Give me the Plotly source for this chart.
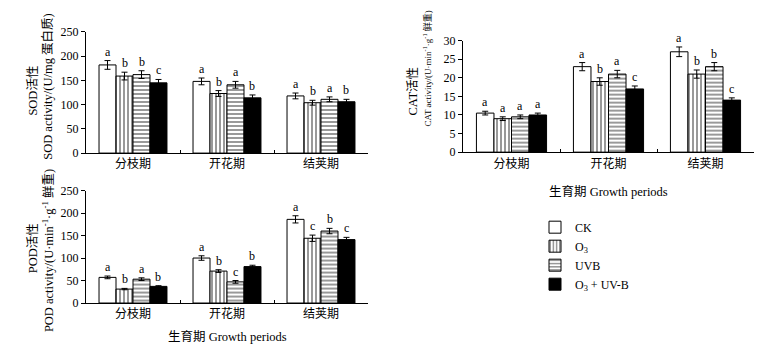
import plotly.graph_objects as go

periods = ["分枝期", "开花期", "结荚期"]
series = ["CK", "O<sub>3</sub>", "UVB", "O<sub>3</sub> + UV-B"]

sod = [[182, 148, 118], [159, 123, 104], [162, 141, 111], [145, 114, 106]]
sod_err = [[9, 7, 6], [8, 6, 5], [8, 7, 5], [7, 6, 5]]
sod_let = [["a", "a", "a"], ["b", "b", "b"], ["b", "a", "a"], ["c", "b", "b"]]

cat = [[10.5, 23, 27], [9, 19, 21], [9.5, 21, 23], [10, 17, 14]]
cat_err = [[0.5, 1.1, 1.3], [0.5, 1.0, 1.1], [0.5, 1.0, 1.1], [0.5, 0.8, 0.6]]
cat_let = [["a", "a", "a"], ["a", "b", "b"], ["a", "a", "b"], ["a", "c", "c"]]

pod = [[57, 100, 186], [31, 71, 144], [53, 47, 160], [37, 81, 141]]
pod_err = [[3, 5, 8], [1.5, 3, 7], [3, 3, 6], [1.5, 3, 5]]
pod_let = [["a", "a", "a"], ["b", "b", "c"], ["a", "c", "b"], ["b", "b", "c"]]

FONT = "Liberation Serif, Times New Roman, Noto Sans CJK SC"
W, H = 767, 360
fills = [
    dict(color="white", pattern=None),
    dict(color="white", pattern=dict(shape="|", fgcolor="black", bgcolor="white", size=4, solidity=0.4)),
    dict(color="white", pattern=dict(shape="-", fgcolor="black", bgcolor="white", size=4, solidity=0.4)),
    dict(color="black", pattern=None),
]

BARGAP = 0.277
bw = (1 - BARGAP) / 4

fig = go.Figure()
panels = [("x", "y", sod, sod_err, sod_let), ("x2", "y2", cat, cat_err, cat_let), ("x3", "y3", pod, pod_err, pod_let)]
annotations = []
for pi, (xa, ya, vals, errs, lets) in enumerate(panels):
    for j in range(4):
        marker = dict(color=fills[j]["color"], line=dict(color="black", width=1))
        if fills[j]["pattern"]:
            marker["pattern"] = fills[j]["pattern"]
        fig.add_trace(go.Bar(
            x=periods, y=vals[j], name=series[j], xaxis=xa, yaxis=ya,
            marker=marker, showlegend=(pi == 0), legendgroup=str(j),
            error_y=dict(type="data", array=errs[j], color="black", thickness=1, width=3),
        ))
        for i in range(3):
            annotations.append(dict(
                x=i + (j - 1.5) * bw, y=vals[j][i] + errs[j][i], xref=xa, yref=ya,
                text="<span style='color:#000000'>" + lets[j][i] + "</span>",
                showarrow=False, yanchor="bottom", yshift=0,
                font=dict(family=FONT, size=12, color="#000000"),
            ))

def dom_x(a, b):
    return [a / W, b / W]

def dom_y(top, bot):
    return [1 - bot / H, 1 - top / H]

axis_common = dict(showline=True, linecolor="black", linewidth=1, showgrid=False, zeroline=False,
                   tickfont=dict(family=FONT, size=12, color="black"))
xcommon = dict(axis_common, ticks="inside", tickson="boundaries", ticklen=3, tickcolor="black")
ycommon = dict(axis_common, ticks="outside", ticklen=4, tickcolor="black")

fig.update_layout(
    width=W, height=H, margin=dict(l=0, r=0, t=0, b=0),
    paper_bgcolor="white", plot_bgcolor="white",
    barmode="group", bargap=BARGAP, bargroupgap=0,
    font=dict(family=FONT, size=12, color="black"),
    xaxis=dict(xcommon, domain=dom_x(86, 368), anchor="y"),
    yaxis=dict(ycommon, domain=dom_y(26, 152), range=[0, 250], tickvals=[0, 50, 100, 150, 200, 250], anchor="x"),
    xaxis2=dict(xcommon, domain=dom_x(463, 754), anchor="y2"),
    yaxis2=dict(ycommon, domain=dom_y(35, 151), range=[0, 30], tickvals=[0, 5, 10, 15, 20, 25, 30], anchor="x2"),
    xaxis3=dict(xcommon, domain=dom_x(86, 368), anchor="y3"),
    yaxis3=dict(ycommon, domain=dom_y(191, 308), range=[0, 250], tickvals=[0, 50, 100, 150, 200, 250], anchor="x3"),
    legend=dict(x=535 / W, y=1 - 214 / H, xanchor="left", yanchor="top", bgcolor="rgba(0,0,0,0)",
                font=dict(family=FONT, size=12), tracegroupgap=0),
)

def ytitle(x, yc, text, size):
    annotations.append(dict(x=x / W, y=1 - yc / H, xref="paper", yref="paper", text=text, textangle=-90,
                            showarrow=False, xanchor="center", yanchor="middle",
                            font=dict(family=FONT, size=size, color="black")))

ytitle(33, 87, "SOD活性", 12.5)
ytitle(48, 83, "SOD activity/(U/mg 蛋白质)", 12.5)
ytitle(413, 88, "CAT活性", 12.5)
ytitle(427, 64, "CAT activity/(U·min<sup>-1</sup>·g<sup>-1</sup> 鲜重)", 9)
ytitle(33, 251, "POD活性", 12.5)
ytitle(48, 254, "POD activity/(U·min<sup>-1</sup>·g<sup>-1</sup> 鲜重)", 12.5)

for xc, yc in [(608, 192), (228, 343)]:
    annotations.append(dict(x=xc / W, y=1 - yc / H, xref="paper", yref="paper", text="生育期 Growth periods",
                            showarrow=False, xanchor="center", yanchor="middle",
                            font=dict(family=FONT, size=12.5, color="black")))

fig.update_layout(annotations=annotations)
fig.write_html("out.html", config={"displayModeBar": False},
               post_script="document.body.style.margin='0';document.body.style.padding='0';")
